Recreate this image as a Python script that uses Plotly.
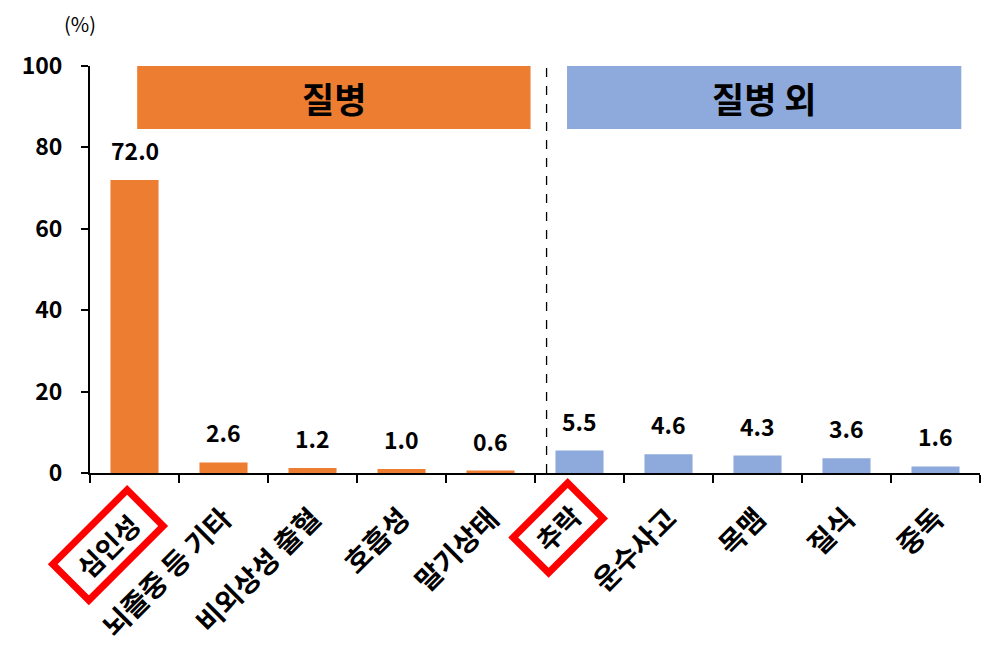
import math
import plotly.graph_objects as go

# data
categories = ['심인성', '뇌졸중 등 기타', '비외상성 출혈', '호흡성', '말기상태',
              '추락', '운수사고', '목맴', '질식', '중독']
values = [72.0, 2.6, 1.2, 1.0, 0.6, 5.5, 4.6, 4.3, 3.6, 1.6]
groups = ['질병'] * 5 + ['질병 외'] * 5
highlighted = ['심인성', '추락']
y_ticks = [0, 20, 40, 60, 80, 100]

ORANGE = '#ED7D31'
BLUE = '#8EA9DB'
FONT = 'Noto Sans CJK KR'
group_color = {'질병': ORANGE, '질병 외': BLUE}

W, H = 995, 643
M = dict(l=82, r=23, t=58, b=178)
PW = W - M['l'] - M['r']
PH = H - M['t'] - M['b']

fig = go.Figure()
fig.add_trace(go.Bar(
    x=categories, y=values,
    marker=dict(color=[group_color[g] for g in groups], line=dict(width=0)),
    width=0.54, showlegend=False,
))

# value labels above the bars
for c, v in zip(categories, values):
    fig.add_annotation(x=c, y=v, text=f'{v:.1f}', showarrow=False,
                       yanchor='bottom', yshift=11,
                       font=dict(family=FONT, size=23, color='black', weight='bold'))

# group headers
headers = [('질병', 0.03, 4.45), ('질병 외', 4.86, 9.29)]
for name, x0, x1 in headers:
    fig.add_shape(type='rect', x0=x0, x1=x1, y0=84.5, y1=100, xref='x', yref='y',
                  fillcolor=group_color[name], line=dict(width=0), layer='below')
    fig.add_annotation(x=(x0 + x1) / 2, y=92.25, text=name, showarrow=False,
                       font=dict(family=FONT, size=35, color='black', weight='bold'))

# divider between the two groups
fig.add_shape(type='line', x0=4.63, x1=4.63, y0=0, y1=101.5, xref='x', yref='y',
              line=dict(color='black', width=1.3, dash='dash'))


def rotated_box(cx, cy, length, width, angle=45):
    """rotated rectangle path in paper coords; sizes in pixels"""
    a = math.radians(angle)
    ux, uy = math.cos(a), math.sin(a)
    vx, vy = math.sin(a), -math.cos(a)
    pts = []
    for su, sv in [(-1, -1), (1, -1), (1, 1), (-1, 1)]:
        px = su * length / 2 * ux + sv * width / 2 * vx
        py = su * length / 2 * uy + sv * width / 2 * vy
        pts.append((cx + px / PW, cy + py / PH))
    return 'M ' + ' L '.join(f'{x:.4f},{y:.4f}' for x, y in pts) + ' Z'


# highlighted category labels in red frames (center in paper coords, size px)
boxes = {'심인성': (0.0202, -0.177, 105, 51), '추락': (0.526, -0.135, 77, 50)}
for lab in highlighted:
    bx, by, bl, bw = boxes[lab]
    fig.add_shape(type='path', path=rotated_box(bx, by, bl, bw),
                  xref='paper', yref='paper',
                  line=dict(color='#FF0000', width=7))
    fig.add_annotation(x=bx, y=by, xref='paper', yref='paper', text=lab,
                       xanchor='center', yanchor='middle',
                       showarrow=False, textangle=-45,
                       font=dict(family=FONT, size=27, color='black', weight='bold'))

fig.add_annotation(x=-0.011, y=1.105, xref='paper', yref='paper', text='(%)',
                   xanchor='center', yanchor='middle', showarrow=False,
                   font=dict(family=FONT, size=20, color='black'))

ticktext = ['' if c in highlighted else c for c in categories]

fig.update_layout(
    width=W, height=H,
    margin=M,
    plot_bgcolor='white', paper_bgcolor='white',
    font=dict(family=FONT, color='black'),
    xaxis=dict(
        type='category', tickmode='array', tickvals=categories, ticktext=ticktext,
        tickangle=-45, tickson='boundaries', ticks='outside', ticklen=8,
        tickwidth=2, tickcolor='black', showline=True, linecolor='black',
        linewidth=2, showgrid=False, range=[-0.5, 9.5], ticklabelstandoff=16,
        automargin=False,
        tickfont=dict(family=FONT, size=28, color='black', weight='bold'),
    ),
    yaxis=dict(
        range=[0, 100], tickvals=y_ticks, ticks='outside', ticklen=7,
        tickwidth=2, tickcolor='black', showline=True, linecolor='black',
        linewidth=2, showgrid=False, zeroline=False, ticklabelstandoff=14,
        automargin=False,
        tickfont=dict(family=FONT, size=23, color='black', weight='bold'),
    ),
)

fig.write_html('out.html')
